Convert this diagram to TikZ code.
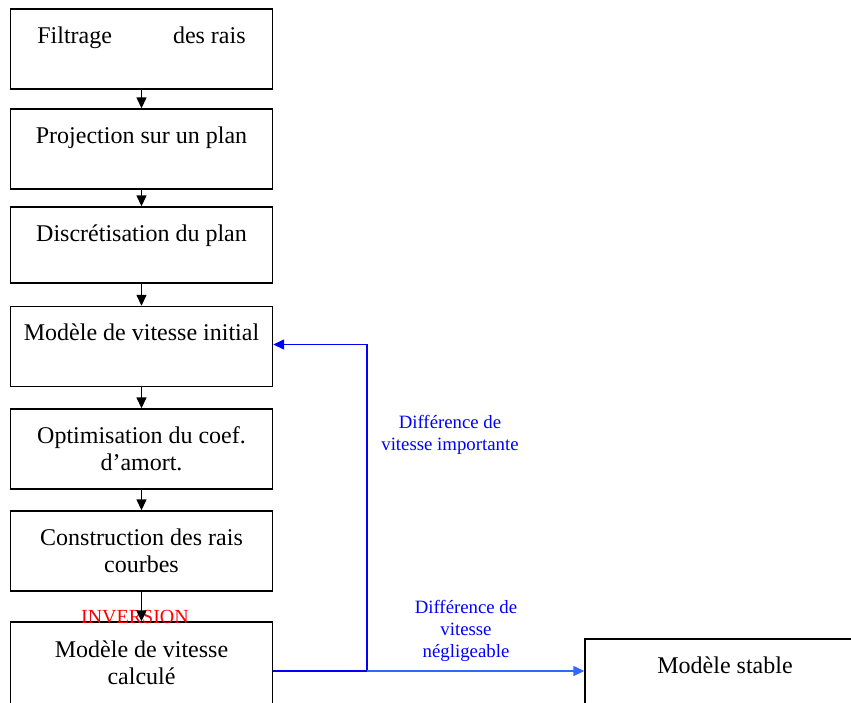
\documentclass[tikz,border=0pt]{standalone}
\usepackage{fontspec}
\setmainfont{Liberation Serif}
\usetikzlibrary{arrows.meta,positioning}

\definecolor{loopblue}{RGB}{0,0,255}
\definecolor{okblue}{RGB}{51,102,255}

\tikzset{
  stage/.style={rectangle,draw,line width=0.7pt,minimum width=131pt,minimum height=40pt,inner sep=0pt},
  stagetext/.style={anchor=base,align=center,font=\fontsize{12}{13.5}\selectfont,inner sep=0pt},
  flow/.style={line width=0.7pt,-{Triangle[length=5.5pt,width=5pt]}},
  remark/.style={anchor=base,align=center,text=blue,font=\fontsize{9.4}{11}\selectfont,inner sep=0pt}
}

\begin{document}
\begin{tikzpicture}[node distance=50pt]
		\useasboundingbox (0,0) rectangle (425.5pt,-351pt);

		\node[stage] (b1) at (70.75pt,-24.5pt) {};
		\node[stage,below of=b1] (b2) {};
		\node[stage,below of=b2,node distance=48pt,minimum height=38pt] (b3) {};
		\node[stage,below of=b3,node distance=50.75pt] (b4) {};
		\node[stage,below of=b4,node distance=51.25pt] (b5) {};
		\node[stage,below of=b5,node distance=51pt] (b6) {};
		\node[stage,below of=b6,node distance=60pt,minimum height=49pt] (b7) {};
		\node[stage,minimum width=140pt,minimum height=45pt] (b8) at (362.5pt,-342pt) {};

		% base = last line, so two-line texts sit 13.5pt lower
		\node[stagetext] (t1) at ([yshift=-17.5pt]b1.north) {Filtrage\hspace{30.5pt}des rais};
		\node[stagetext] (t2) at ([yshift=-17.5pt]b2.north) {Projection sur un plan};
		\node[stagetext] (t3) at ([yshift=-17.5pt]b3.north) {Discrétisation du plan};
		\node[stagetext] (t4) at ([yshift=-17.5pt]b4.north) {Modèle de vitesse initial};
		\node[stagetext] (t5) at ([yshift=-31pt]b5.north) {Optimisation du coef.\\d’amort.};
		\node[stagetext] (t6) at ([yshift=-31pt]b6.north) {Construction des rais\\courbes};
		\node[stagetext] (t7) at ([yshift=-31.5pt]b7.north) {Modèle de vitesse\\calculé};
		\node[stagetext] (t8) at ([yshift=-17.5pt]b8.north) {Modèle stable};

		\node[anchor=base,text=red,inner sep=0pt,font=\fontsize{10}{12}\selectfont] (inv) at (67.5pt,-311.5pt) {INVERSION};

		\node[remark] (big) at (225pt,-225pt) {Différence de\\vitesse importante};
		\node[remark] (small) at (233pt,-328.5pt) {Différence de\\vitesse\\négligeable};

		\coordinate (split) at (183.5pt,-335.5pt);

		\draw[flow] (b1) -- (b2);
		\draw[flow] (b2) -- (b3);
		\draw[flow] (b3) -- (b4);
		\draw[flow] (b4) -- (b5);
		\draw[flow] (b5) -- (b6);
		\draw[flow] (b6) -- (b7);

		% retour vers le modele initial
		\draw[line width=0.7pt,loopblue] (b7.east) -- (split);
		\draw[flow,loopblue] (split) |- ([yshift=1pt]b4.east);
		\draw[flow,okblue] (split) -- (split -| b8.west);
	\end{tikzpicture}
\end{document}
